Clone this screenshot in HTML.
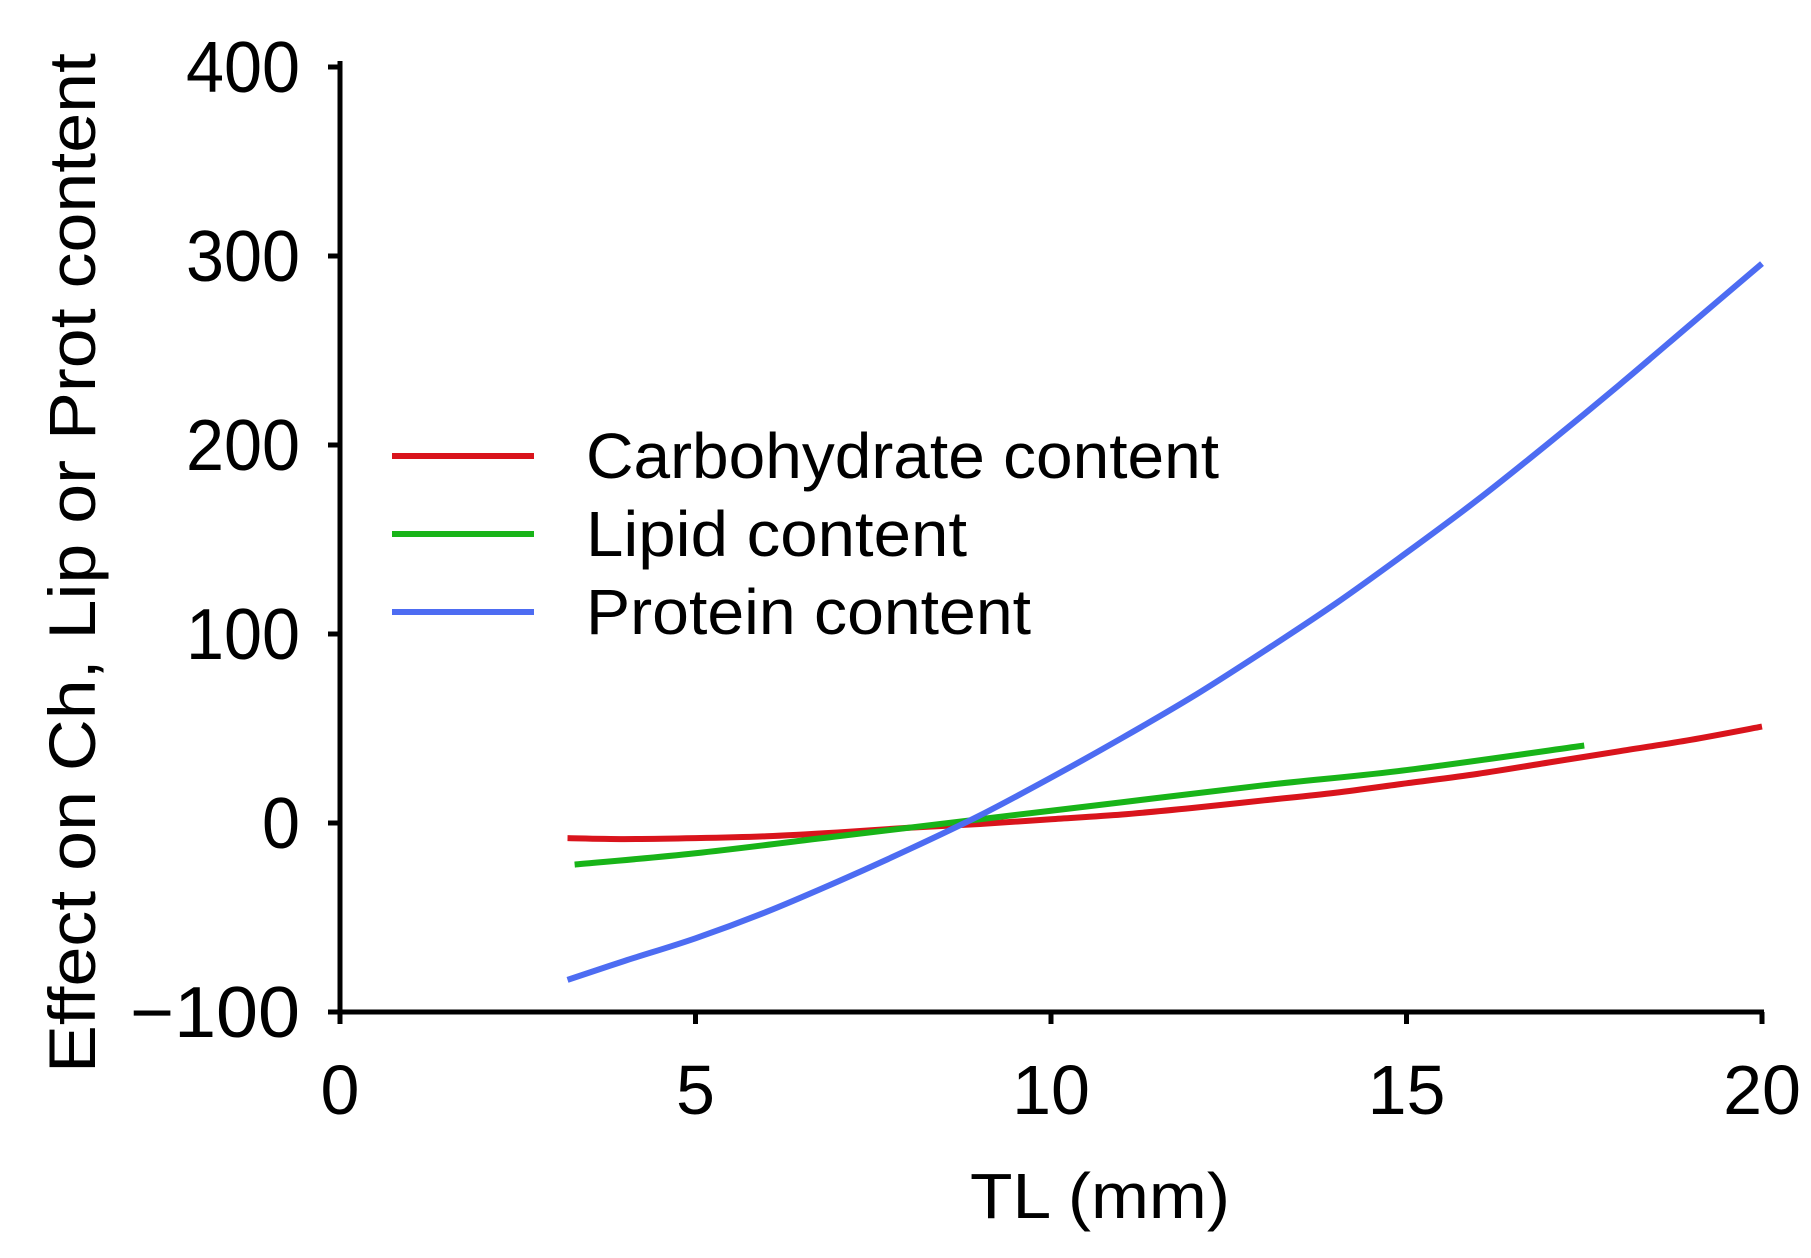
<!DOCTYPE html>
<html><head><meta charset="utf-8"><style>
html,body{margin:0;padding:0;background:#fff;}
svg text{font-family:"Liberation Sans",sans-serif;fill:#000;}
</style></head><body>
<svg id="chart" width="1811" height="1253" xmlns="http://www.w3.org/2000/svg">
<g id="axes"></g>
<g id="series"></g>
<g id="legend"></g>
</svg>
<script>
const xTicks=[0,5,10,15,20];
const yTicks=[-100,0,100,200,300,400];
const seriesNames=["Carbohydrate content","Lipid content","Protein content"];
const seriesColors=["#d9141c","#18b418","#4d6cf2"];
const carbX=[3.2,4,5,6,7,8,9,10,11,12,13,14,15,16,17,18,19,20];
const carbY=[-8,-8.5,-8,-7,-5,-2.5,-0.5,2,4.5,8,12,16,21,26,32,38,44,51];
const lipX=[3.3,5,7,9,11,13,15,17.5];
const lipY=[-22,-16,-7,2,11,20,28,41];
const protX=[3.2,4,5,6,7,8,9,10,11,12,13,14,15,16,17,18,19,20];
const protY=[-83,-73,-61,-47,-31,-14,4,24,45,67,91,116,143,171,201,232,264,296];

const NS="http://www.w3.org/2000/svg";
const X0=340,X1=1762,Y0=1012,Y1=67;
const sx=v=>X0+(v-0)/(20-0)*(X1-X0);
const sy=v=>Y0-(v+100)/(500)*(Y0-Y1);
function mk(t,a,p){const e=document.createElementNS(NS,t);for(const k in a)e.setAttribute(k,a[k]);p.appendChild(e);return e;}
const axes=document.getElementById('axes');
let ya=mk('line',{x1:X0,y1:Y1-6,x2:X0,y2:Y0,stroke:'#000','stroke-width':5},axes);


let xa=mk('line',{x1:X0-2,y1:Y0,x2:X1+2,y2:Y0,stroke:'#000','stroke-width':5},axes);


yTicks.forEach(v=>{
 const t=mk('line',{x1:X0-12,y1:sy(v),x2:X0,y2:sy(v),stroke:'#000','stroke-width':5},axes);
 
 
 const s=v<0?'\u2212'+Math.abs(v):String(v);
 const l=mk('text',{x:X0-40,y:sy(v)+25,'text-anchor':'end','font-size':72,textLength:s.length*38+(v<0?18:0),lengthAdjust:'spacingAndGlyphs'},axes);
 l.textContent=s;
 
 
});
xTicks.forEach(v=>{
 const t=mk('line',{x1:sx(v),y1:Y0,x2:sx(v),y2:Y0+12,stroke:'#000','stroke-width':5},axes);
 
 
 const l=mk('text',{x:sx(v),y:Y0+102,'text-anchor':'middle','font-size':70},axes);
 l.textContent=String(v);
 
 
});
const xt=mk('text',{x:1100,y:1218,'text-anchor':'middle','font-size':64,textLength:260,lengthAdjust:'spacingAndGlyphs'},axes);
xt.textContent='TL (mm)';


const yt=mk('text',{x:0,y:0,'text-anchor':'middle','font-size':66,textLength:1020,lengthAdjust:'spacingAndGlyphs',transform:'translate(95,563) rotate(-90)'},axes);
yt.textContent='Effect on Ch, Lip or Prot content';



function pathFor(xs,ys){
 const p=xs.map((x,i)=>[sx(x),sy(ys[i])]);
 let d='M'+p[0][0]+','+p[0][1];
 for(let i=0;i<p.length-1;i++){
  const a=p[i-1]||p[i],b=p[i],c=p[i+1],e=p[i+2]||c;
  const c1=[b[0]+(c[0]-a[0])/6,b[1]+(c[1]-a[1])/6],c2=[c[0]-(e[0]-b[0])/6,c[1]-(e[1]-b[1])/6];
  d+=' C'+c1+' '+c2+' '+c;
 }
 return d;
}
const ser=document.getElementById('series');
const data=[[carbX,carbY],[lipX,lipY],[protX,protY]];
const snames=['carbohydrate-line','lipid-line','protein-line'];
data.forEach((s,i)=>{
 const p=mk('path',{d:pathFor(s[0],s[1]),fill:'none',stroke:seriesColors[i],'stroke-width':6,'stroke-linejoin':'round'},ser);
 
 
});
const leg=document.getElementById('legend');
const legW=[633,381,445];
seriesNames.forEach((n,i)=>{
 const y=456+i*78;
 const l=mk('line',{x1:392,y1:y,x2:534,y2:y,stroke:seriesColors[i],'stroke-width':6},leg);
 
 
 const t=mk('text',{x:586,y:y+22,'font-size':64,textLength:legW[i],lengthAdjust:'spacingAndGlyphs'},leg);
 t.textContent=n;
 
 
});
</script>
</body></html>
